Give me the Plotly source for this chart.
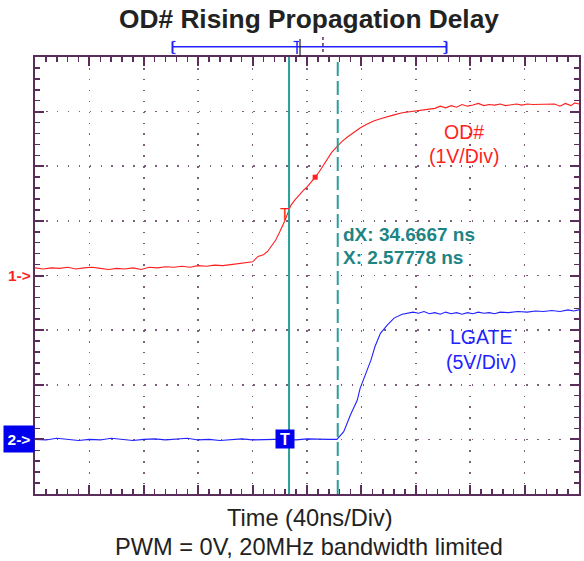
import plotly.graph_objects as go

# ---------------- data (time in ns relative to trigger, amplitude in divisions) -------------
od_t = [-184, -178, -172, -166, -160, -154, -148, -142, -136, -130, -124, -118, -112, -106,
        -100, -94, -88, -82, -76, -70, -64, -58, -52, -46, -40, -34, -28, -24, -20, -16,
        -13, -10, -7, -4, -2, 0, 2, 4, 7, 10, 13, 16, 19, 22, 25, 28, 31, 34, 38, 42, 46,
        50, 55, 60, 65, 70, 75, 80, 86, 92, 98, 104, 110, 114, 118, 122, 126, 130, 134,
        138, 142, 146, 150, 154, 158, 162, 166, 170, 174, 178, 182, 186, 190, 194, 198,
        202, 206, 210, 213, 216]
od_v = [0.14, 0.12, 0.14, 0.13, 0.15, 0.12, 0.14, 0.15, 0.13, 0.11, 0.13, 0.12, 0.14, 0.11,
        0.15, 0.14, 0.16, 0.15, 0.17, 0.15, 0.18, 0.17, 0.19, 0.18, 0.20, 0.22, 0.25, 0.25,
        0.35, 0.38, 0.44, 0.55, 0.65, 0.80, 0.90, 1.02, 1.15, 1.28, 1.38, 1.47, 1.55, 1.62,
        1.70, 1.80, 1.90, 2.02, 2.12, 2.25, 2.36, 2.46, 2.54, 2.61, 2.70, 2.77, 2.83, 2.87,
        2.91, 2.94, 2.98, 3.00, 3.03, 3.05, 3.06, 3.10, 3.07, 3.11, 3.08, 3.13, 3.10, 3.12,
        3.15, 3.11, 3.13, 3.12, 3.14, 3.11, 3.13, 3.14, 3.12, 3.14, 3.13, 3.13, 3.14, 3.13,
        3.14, 3.10, 3.15, 3.11, 3.16, 3.14]

lg_t = [-184, -176, -168, -160, -152, -144, -136, -128, -120, -112, -104, -96, -88, -80,
        -72, -64, -56, -48, -40, -32, -24, -16, -8, 0, 8, 16, 24, 32, 38, 43, 48, 53, 55,
        59, 63, 66, 70, 75, 80, 86, 90, 94, 98, 102, 106, 110, 114, 118, 122, 126, 130, 134,
        138, 142, 146, 150, 154, 158, 164, 171, 178, 184, 190, 196, 202, 208, 212, 216]
lg_v = [-3.00, -3.01, -2.98, -3.00, -3.02, -3.00, -3.01, -2.98, -3.00, -3.02, -3.00, -2.99,
        -3.01, -3.00, -2.98, -3.01, -3.00, -3.02, -3.00, -2.99, -3.01, -3.00, -3.00, -3.00,
        -3.01, -2.99, -3.00, -3.00, -3.00, -2.86, -2.55, -2.28, -2.07, -1.82, -1.55, -1.30,
        -1.06, -0.91, -0.78, -0.71, -0.69, -0.67, -0.69, -0.66, -0.70, -0.68, -0.71, -0.67,
        -0.70, -0.68, -0.71, -0.68, -0.70, -0.67, -0.69, -0.68, -0.70, -0.67, -0.68, -0.66,
        -0.67, -0.65, -0.66, -0.64, -0.66, -0.63, -0.65, -0.63]

trig_t = 0.0          # trigger time (ns)
trig_level = 1.12     # channel 1 trigger level (div)
cursor1 = 2.8         # solid cursor (ns)
cursor2 = 38.6        # dashed cursor (ns)
dot_t, dot_v = 22, 1.80
ch1_ref = 0           # channel 1 ground marker (div)
ch2_ref = -3          # channel 2 ground marker (div)
x_range = [-184, 216]
y_range = [-4, 4]

title = "OD# Rising Propagation Delay"
xlabel = "Time (40ns/Div)"
subtitle = "PWM = 0V, 20MHz bandwidth limited"
cursor_text = ["dX: 34.6667 ns", "X: 2.57778 ns"]

# ---------------- layout helpers (pixel -> paper) ----------------
W, H = 584, 561
L, R, T, B = 35, 581, 57, 494
def pxx(x):
    return (x - L) / (R - L)
def pxy(y):
    return (B - y) / (B - T)

RED = "#ff1f1f"
BLUE = "#2222ff"
TEAL = "#2a9e9a"
TEALTXT = "#1e8484"
FRAME = "#5a2d5a"
GRID = "#7d5f7d"
FONT = "Liberation Sans, Arial, sans-serif"

fig = go.Figure()
fig.add_trace(go.Scatter(x=od_t, y=od_v, mode="lines", line=dict(color=RED, width=1.1),
                         hoverinfo="skip", showlegend=False))
fig.add_trace(go.Scatter(x=lg_t, y=lg_v, mode="lines", line=dict(color=BLUE, width=1.1),
                         hoverinfo="skip", showlegend=False))
fig.add_trace(go.Scatter(x=[dot_t], y=[dot_v], mode="markers",
                         marker=dict(color=RED, symbol="square", size=5), showlegend=False))

div_px = (R - L) / 10
fig.update_layout(
    width=W, height=H, margin=dict(l=L, r=W - R, t=T, b=H - B, pad=0),
    plot_bgcolor="white", paper_bgcolor="white",
    showlegend=False,
    font=dict(family=FONT),
    xaxis=dict(range=x_range, tick0=x_range[0], dtick=40, showticklabels=False,
               ticks="inside", ticklen=9, tickwidth=2, tickcolor=FRAME,
               minor=dict(dtick=8, tick0=x_range[0], ticks="inside", ticklen=5, tickwidth=1.5,
                          tickcolor=FRAME, showgrid=False),
               showline=True, linecolor=FRAME, linewidth=2, mirror="allticks",
               showgrid=True, gridcolor=GRID, gridwidth=1.6,
               griddash="1.6px,%.2fpx" % (div_px / 5 - 1.6),
               zeroline=False, fixedrange=True),
    yaxis=dict(range=y_range, tick0=0, dtick=1, showticklabels=False,
               ticks="inside", ticklen=9, tickwidth=2, tickcolor=FRAME,
               minor=dict(dtick=0.2, tick0=0, ticks="inside", ticklen=5, tickwidth=1.5,
                          tickcolor=FRAME, showgrid=False),
               showline=True, linecolor=FRAME, linewidth=2, mirror="allticks",
               showgrid=True, gridcolor=GRID, gridwidth=1.6,
               griddash="1.6px,%.2fpx" % (div_px / 5 - 1.6),
               zeroline=False, fixedrange=True),
)

shapes = []
# cursors
shapes.append(dict(type="line", xref="x", yref="paper", x0=cursor1, x1=cursor1, y0=0, y1=1,
                   line=dict(color=TEAL, width=2)))
shapes.append(dict(type="line", xref="x", yref="paper", x0=cursor2, x1=cursor2, y0=0, y1=1,
                   line=dict(color=TEAL, width=2, dash="14px,5px")))
# memory bar on top
yb = pxy(46.7)
shapes.append(dict(type="line", xref="paper", yref="paper", x0=pxx(173), x1=pxx(448),
                   y0=yb, y1=yb, line=dict(color=BLUE, width=1.5)))
for xe, d in [(173, 1), (448, -1)]:
    shapes.append(dict(type="line", xref="paper", yref="paper", x0=pxx(xe), x1=pxx(xe),
                       y0=pxy(41.5), y1=pxy(53.5), line=dict(color=BLUE, width=2)))
    shapes.append(dict(type="line", xref="paper", yref="paper", x0=pxx(xe), x1=pxx(xe + 3 * d),
                       y0=pxy(41.5), y1=pxy(41.5), line=dict(color=BLUE, width=1.2)))
    shapes.append(dict(type="line", xref="paper", yref="paper", x0=pxx(xe), x1=pxx(xe + 3 * d),
                       y0=pxy(53.5), y1=pxy(53.5), line=dict(color=BLUE, width=1.2)))
shapes.append(dict(type="line", xref="paper", yref="paper", x0=pxx(298), x1=pxx(298),
                   y0=pxy(41.5), y1=pxy(54), line=dict(color=BLUE, width=1.5)))
shapes.append(dict(type="line", xref="paper", yref="paper", x0=pxx(294.5), x1=pxx(300),
                   y0=pxy(41.5), y1=pxy(41.5), line=dict(color=BLUE, width=1.2)))
shapes.append(dict(type="line", xref="paper", yref="paper", x0=pxx(301), x1=pxx(301),
                   y0=pxy(39), y1=pxy(57), line=dict(color="#222222", width=1.2)))
shapes.append(dict(type="line", xref="paper", yref="paper", x0=pxx(324), x1=pxx(324),
                   y0=pxy(37), y1=pxy(57), line=dict(color=FRAME, width=1.5, dash="3px,3px")))
fig.update_layout(shapes=shapes)

ann = []
ann.append(dict(text="<b>%s</b>" % title, xref="paper", yref="paper", x=pxx(310), y=pxy(19),
                xanchor="center", yanchor="middle", showarrow=False,
                font=dict(size=26.3, color="#222222", family=FONT)))
ann.append(dict(text=xlabel, xref="paper", yref="paper", x=pxx(311), y=pxy(518),
                xanchor="center", yanchor="middle", showarrow=False,
                font=dict(size=23.6, color="#222222", family=FONT)))
ann.append(dict(text=subtitle, xref="paper", yref="paper", x=pxx(310), y=pxy(547),
                xanchor="center", yanchor="middle", showarrow=False,
                font=dict(size=23.6, color="#222222", family=FONT)))
ann.append(dict(text="OD#", xref="paper", yref="paper", x=pxx(466), y=pxy(132),
                xanchor="center", yanchor="middle", showarrow=False,
                font=dict(size=19.5, color=RED, family=FONT)))
ann.append(dict(text="(1V/Div)", xref="paper", yref="paper", x=pxx(466), y=pxy(156),
                xanchor="center", yanchor="middle", showarrow=False,
                font=dict(size=19.5, color=RED, family=FONT)))
ann.append(dict(text="LGATE", xref="paper", yref="paper", x=pxx(483), y=pxy(337),
                xanchor="center", yanchor="middle", showarrow=False,
                font=dict(size=19.5, color=BLUE, family=FONT)))
ann.append(dict(text="(5V/Div)", xref="paper", yref="paper", x=pxx(483), y=pxy(362),
                xanchor="center", yanchor="middle", showarrow=False,
                font=dict(size=19.5, color=BLUE, family=FONT)))
for i, (txt, yy) in enumerate(zip(cursor_text, [234, 257])):
    ann.append(dict(text="<b>%s</b>" % txt, xref="paper", yref="paper", x=pxx(342), y=pxy(yy),
                    xanchor="left", yanchor="middle", showarrow=False,
                    font=dict(size=19, color=TEALTXT, family=FONT)))
# channel ground markers
ann.append(dict(text="<b>1-></b>", xref="paper", yref="y", x=pxx(33), y=ch1_ref,
                xanchor="right", yanchor="middle", showarrow=False,
                font=dict(size=15.5, color=RED, family=FONT)))
ann.append(dict(text="<b>2-></b>", xref="paper", yref="y", x=pxx(35), y=ch2_ref,
                xanchor="right", yanchor="middle", showarrow=False, bgcolor="#0000ee",
                borderpad=3, width=24, height=20,
                font=dict(size=15.5, color="white", family=FONT)))
# trigger markers
ann.append(dict(text="<b>T</b>", xref="x", yref="y", x=trig_t, y=ch2_ref,
                xanchor="center", yanchor="middle", showarrow=False, bgcolor="#0000ee",
                borderpad=2, width=14, height=14,
                font=dict(size=16, color="white", family=FONT)))
ann.append(dict(text="T", xref="x", yref="y", x=trig_t, y=trig_level,
                xanchor="center", yanchor="middle", showarrow=False,
                font=dict(size=16, color=RED, family=FONT)))
fig.update_layout(annotations=ann)

fig.write_html("out.html", post_script="document.body.style.margin='0px';",
               config={"displayModeBar": False, "staticPlot": True})
